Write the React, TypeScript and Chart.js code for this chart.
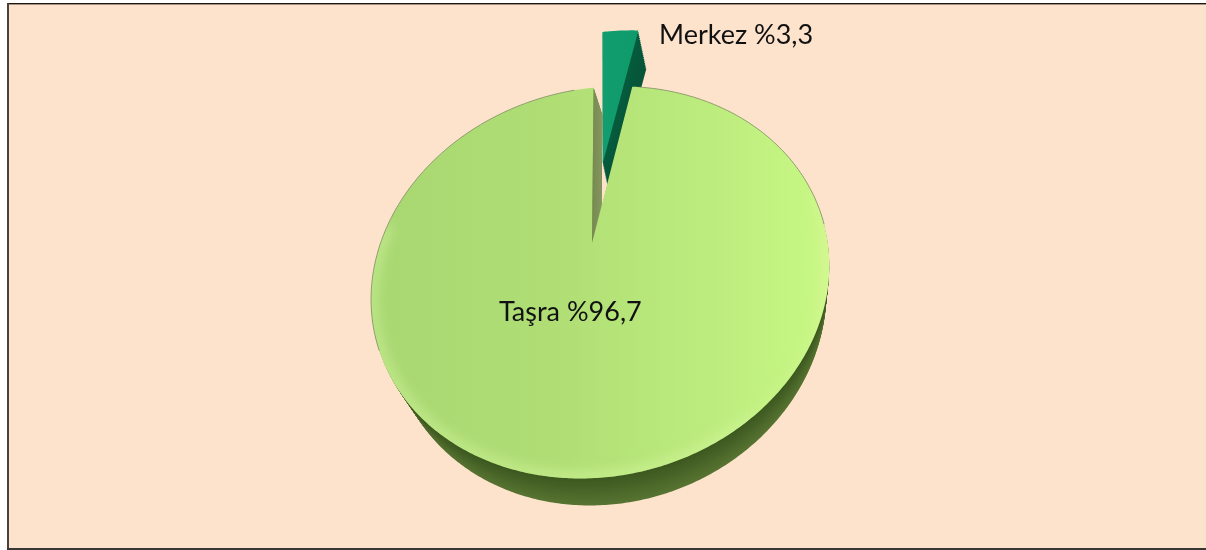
import React, { useEffect, useRef } from "react";
import { Chart, registerables } from "chart.js";

Chart.register(...registerables);

const categories = ["Merkez", "Taşra"];
const shares = [3.3, 96.7];
const explode = [103, 0];
const faceColors = ["#0f9a6b", "#b4e27a"];

const PAGE_BG = "#fee3cc";
const P = { cx: 592, cy: 243, rx: 224, ry: 187, p: 0.205, q: 0.035, s: -18 };
const SX = 0.95;
const DEPTH_Y = 27;

function project(u: number, v: number) {
  const w = 1 - P.p * v - P.q * u;
  return { x: P.cx + (P.rx * u) / w, y: P.cy + (P.ry * v + P.s * u) / w };
}
function mainDepth(pt: { x: number; y: number }, t: number) {
  const bx = 826 - (829 - pt.x) * SX;
  return { x: pt.x + (bx - pt.x) * t, y: pt.y + DEPTH_Y * t };
}
function merkezDepth(pt: { x: number; y: number }, t: number) {
  return { x: pt.x + 8 * t, y: pt.y + 38 * t };
}
function mix(a: number[], b: number[], t: number) {
  return `rgb(${a.map((c, i) => Math.round(c + (b[i] - c) * t)).join(",")})`;
}
function sector(el: any) {
  const R = el.outerRadius;
  const off = (el.options.offset || 0) / R;
  const mid = (el.startAngle + el.endAngle) / 2;
  const ox = off * Math.cos(mid);
  const oy = off * Math.sin(mid);
  const apex = project(ox, oy);
  const rim: { x: number; y: number }[] = [];
  const n = Math.max(4, Math.ceil((el.endAngle - el.startAngle) / 0.01));
  for (let i = 0; i <= n; i++) {
    const a = el.startAngle + ((el.endAngle - el.startAngle) * i) / n;
    rim.push(project(ox + Math.cos(a), oy + Math.sin(a)));
  }
  return { apex, rim };
}
function trace(ctx: CanvasRenderingContext2D, pts: { x: number; y: number }[]) {
  ctx.beginPath();
  pts.forEach((p, i) => (i ? ctx.lineTo(p.x, p.y) : ctx.moveTo(p.x, p.y)));
  ctx.closePath();
}
function arcPath(ctx: CanvasRenderingContext2D, from: number, to: number) {
  ctx.beginPath();
  const n = Math.ceil((to - from) / 0.02);
  for (let i = 0; i <= n; i++) {
    const a = from + ((to - from) * i) / n;
    const p = project(Math.cos(a), Math.sin(a));
    if (i === 0) ctx.moveTo(p.x, p.y);
    else ctx.lineTo(p.x, p.y);
  }
}

const framePlugin = {
  id: "frame",
  beforeDraw(chart: any) {
    const { ctx } = chart;
    ctx.save();
    ctx.fillStyle = PAGE_BG;
    ctx.fillRect(8, 4, 1198, 544);
    ctx.fillStyle = "#1c1512";
    ctx.fillRect(8, 3, 1198, 1.4);
    ctx.fillStyle = "#454340";
    ctx.fillRect(7, 3, 2, 546);
    ctx.fillStyle = "#3a3633";
    ctx.fillRect(7, 548, 1199, 2);
    ctx.restore();
  },
};

const perspectivePie = {
  id: "perspectivePie",
  beforeDatasetDraw(chart: any, args: any) {
    const { ctx } = chart;
    const meta = chart.getDatasetMeta(args.index);
    const [merkez, tasra] = meta.data;
    const m = sector(merkez);
    const t = sector(tasra);
    const mPts = [m.apex, ...m.rim];
    const tPts = [t.apex, ...t.rim];

    ctx.save();
    // Merkez wedge: wall, then face
    for (let i = 20; i >= 1; i--) {
      const k = i / 20;
      trace(ctx, mPts.map((p) => merkezDepth(p, k)));
      ctx.fillStyle = mix([6, 92, 62], [8, 84, 56], k);
      ctx.fill();
    }
    trace(ctx, mPts);
    const mg = ctx.createLinearGradient(604, 0, 640, 0);
    mg.addColorStop(0, "#119d6e");
    mg.addColorStop(1, merkez.options.backgroundColor);
    ctx.fillStyle = mg;
    ctx.fill();

    // Taşra body
    for (let i = 30; i >= 1; i--) {
      const k = i / 30;
      trace(ctx, tPts.map((p) => mainDepth(p, k)));
      ctx.fillStyle = mix([60, 88, 32], [88, 116, 50], k);
      ctx.fill();
    }
    // cut wall on the left of the gap
    const L = t.rim[t.rim.length - 1];
    const wall = [t.apex, L, mainDepth(L, 1), mainDepth(t.apex, 1)];
    trace(ctx, wall);
    const wg = ctx.createLinearGradient(592, 0, 606, 0);
    wg.addColorStop(0, "#76894f");
    wg.addColorStop(1, "#8b9c66");
    ctx.fillStyle = wg;
    ctx.fill();

    // Taşra face
    trace(ctx, tPts);
    const g = ctx.createLinearGradient(372, 0, 829, 0);
    g.addColorStop(0, "#a8d772");
    g.addColorStop(0.4, "#b0de75");
    g.addColorStop(0.7, "#bbea7d");
    g.addColorStop(0.96, "#c6f683");
    g.addColorStop(1, "#d2f78e");
    ctx.fillStyle = g;
    ctx.fill();

    // soft rim highlight along the front edge
    ctx.save();
    trace(ctx, tPts);
    ctx.clip();
    ctx.filter = "blur(7px)";
    ctx.strokeStyle = "rgba(214,248,160,0.75)";
    ctx.lineWidth = 9;
    arcPath(ctx, Math.PI * 0.3, Math.PI + 0.2);
    ctx.stroke();
    ctx.strokeStyle = "rgba(220,250,160,0.45)";
    ctx.lineWidth = 6;
    arcPath(ctx, -0.2, Math.PI * 0.3);
    ctx.stroke();
    ctx.restore();

    // thin outline on the far edge
    ctx.strokeStyle = "rgba(120,135,95,0.75)";
    ctx.lineWidth = 1;
    arcPath(ctx, Math.PI * 0.85, Math.PI * 1.47);
    ctx.stroke();
    arcPath(ctx, -Math.PI * 0.42, 0);
    ctx.stroke();
    ctx.restore();
    return false;
  },
  afterDatasetsDraw(chart: any) {
    const { ctx } = chart;
    const spots = [
      { x: 659, y: 35 },
      { x: 499, y: 312 },
    ];
    ctx.save();
    ctx.fillStyle = "#111111";
    ctx.font = "400 27px Lato";
    ctx.textAlign = "left";
    ctx.textBaseline = "middle";
    categories.forEach((c, i) => {
      ctx.fillText(`${c} %${String(shares[i]).replace(".", ",")}`, spots[i].x, spots[i].y);
    });
    ctx.restore();
  },
};

export default function App() {
  const ref = useRef<HTMLCanvasElement | null>(null);
  useEffect(() => {
    const chart = new Chart(ref.current!, {
      type: "pie",
      data: {
        labels: categories,
        datasets: [
          {
            data: shares,
            backgroundColor: faceColors,
            offset: explode,
            borderWidth: 0,
          },
        ],
      },
      options: {
        responsive: false,
        animation: false,
        rotation: 0.5,
        plugins: { legend: { display: false }, tooltip: { enabled: false } },
      } as any,
      plugins: [framePlugin, perspectivePie] as any,
    });
    return () => chart.destroy();
  }, []);
  return (
    <div style={{ position: "absolute", left: 0, top: 0, width: 1206, height: 550 }}>
      <canvas ref={ref} width={1206} height={550} style={{ display: "block" }} />
    </div>
  );
}
